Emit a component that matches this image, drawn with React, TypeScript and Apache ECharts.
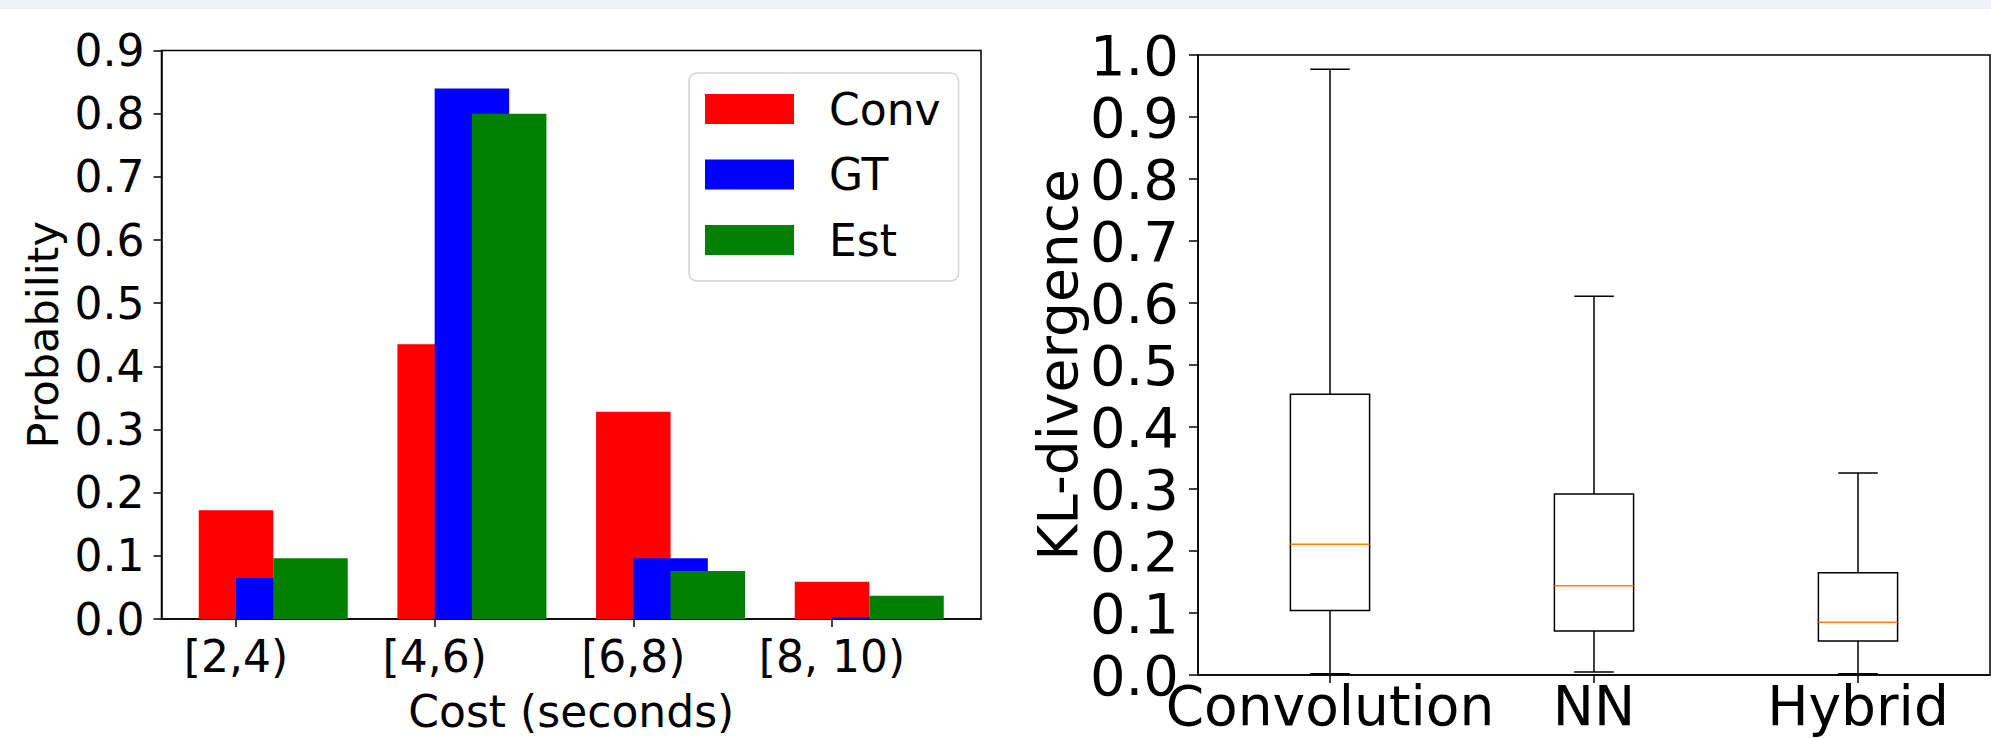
import React, { useEffect, useRef } from 'react';
import * as echarts from 'echarts';

// ---- Left chart data: probability per cost bin ----
const costBins = ['[2,4)', '[4,6)', '[6,8)', '[8, 10)'];
const convProb = [0.172, 0.435, 0.328, 0.059];
const gtProb = [0.065, 0.84, 0.096, 0.003];
const estProb = [0.096, 0.8, 0.076, 0.037];

// ---- Right chart data: KL-divergence box statistics ----
const methods = ['Convolution', 'NN', 'Hybrid'];
const klLow = [0.002, 0.005, 0.002];
const klQ1 = [0.104, 0.071, 0.055];
const klMedian = [0.211, 0.144, 0.085];
const klQ3 = [0.453, 0.292, 0.165];
const klHigh = [0.977, 0.611, 0.326];

const FONT = 'DejaVu Sans';
const BAR_W = 0.375; // bar width in axis units

export default function App() {
  const ref = useRef<HTMLDivElement>(null);

  useEffect(() => {
    document.body.style.margin = '0';
    const chart = echarts.init(ref.current!, undefined, { renderer: 'svg' });

    const L = { left: 161.5, right: 981, top: 50.5, bottom: 632.5 };
    const R = { left: 1198, right: 1990, top: 55, bottom: 675 };
    const xMin = -0.375;
    const xMax = 3.75;
    const barPx = ((L.right - L.left) / (xMax - xMin)) * BAR_W;

    const axisLineStyle = { color: '#000', width: 1.5 };

    const option: any = {
      animation: false,
      backgroundColor: '#fff',
      textStyle: { fontFamily: FONT },
      graphic: [
        {
          type: 'rect',
          shape: { x: 0, y: 0, width: 1991, height: 9 },
          style: { fill: '#edf1f9' },
          silent: true,
        },
      ],
      grid: [
        {
          left: L.left,
          top: L.top,
          width: L.right - L.left,
          height: L.bottom - L.top,
          show: true,
          borderColor: '#000',
          borderWidth: 1.5,
          backgroundColor: 'transparent',
        },
        {
          left: R.left,
          top: R.top,
          width: R.right - R.left,
          height: R.bottom - R.top,
          show: true,
          borderColor: '#000',
          borderWidth: 1.5,
          backgroundColor: 'transparent',
        },
      ],
      legend: {
        data: ['Conv', 'GT', 'Est'],
        orient: 'vertical',
        left: 689,
        top: 73,
        icon: 'rect',
        itemWidth: 89,
        itemHeight: 30,
        itemGap: 21.5,
        padding: [14, 18, 19, 16],
        borderColor: '#d4d4d4',
        borderWidth: 1.5,
        borderRadius: 8,
        backgroundColor: '#fff',
        textStyle: {
          fontSize: 44,
          fontFamily: FONT,
          color: '#000',
          lineHeight: 44,
          padding: [0, 0, 0, 30],
        },
      },
      xAxis: [
        {
          type: 'value',
          gridIndex: 0,
          min: xMin,
          max: xMax,
          name: 'Cost (seconds)',
          nameLocation: 'middle',
          nameGap: 70,
          nameTextStyle: { fontSize: 44, color: '#000', fontFamily: FONT },
          axisLine: { show: true, onZero: false, lineStyle: axisLineStyle },
          axisTick: {
            show: true,
            length: 8,
            lineStyle: axisLineStyle,
            customValues: [0, 1, 2, 3],
          },
          axisLabel: {
            fontSize: 44,
            color: '#000',
            margin: 15,
            customValues: [0, 1, 2, 3],
            formatter: (v: number) => costBins[Math.round(v)] ?? '',
          },
          splitLine: { show: false },
        },
        {
          type: 'category',
          gridIndex: 1,
          data: methods,
          boundaryGap: true,
          axisLine: { show: true, onZero: false, lineStyle: axisLineStyle },
          axisTick: { show: true, alignWithLabel: true, interval: 0, length: 8, lineStyle: axisLineStyle },
          axisLabel: { fontSize: 55, color: '#000', margin: 3, interval: 0, hideOverlap: false },
          splitLine: { show: false },
        },
      ],
      yAxis: [
        {
          type: 'value',
          gridIndex: 0,
          min: 0,
          max: 0.9,
          interval: 0.1,
          name: 'Probability',
          nameLocation: 'middle',
          nameGap: 97,
          nameTextStyle: { fontSize: 43, color: '#000', fontFamily: FONT },
          axisLine: { show: true, onZero: false, lineStyle: axisLineStyle },
          axisTick: { show: true, length: 8, lineStyle: axisLineStyle },
          axisLabel: {
            fontSize: 44,
            color: '#000',
            margin: 17,
            formatter: (v: number) => v.toFixed(1),
          },
          splitLine: { show: false },
        },
        {
          type: 'value',
          gridIndex: 1,
          min: 0,
          max: 1,
          interval: 0.1,
          name: 'KL-divergence',
          nameLocation: 'middle',
          nameGap: 113,
          nameTextStyle: { fontSize: 55, color: '#000', fontFamily: FONT },
          axisLine: { show: true, onZero: false, lineStyle: axisLineStyle },
          axisTick: { show: true, length: 9, lineStyle: axisLineStyle },
          axisLabel: {
            fontSize: 56,
            color: '#000',
            margin: 19,
            formatter: (v: number) => v.toFixed(1),
          },
          splitLine: { show: false },
        },
      ],
      series: [
        {
          name: 'Conv',
          type: 'bar',
          xAxisIndex: 0,
          yAxisIndex: 0,
          barWidth: barPx,
          barGap: '-100%',
          itemStyle: { color: '#ff0000' },
          data: convProb.map((v, i) => [i, v]),
        },
        {
          name: 'GT',
          type: 'bar',
          xAxisIndex: 0,
          yAxisIndex: 0,
          barWidth: barPx,
          barGap: '-100%',
          itemStyle: { color: '#0000ff' },
          data: gtProb.map((v, i) => [i + BAR_W / 2, v]),
        },
        {
          name: 'Est',
          type: 'bar',
          xAxisIndex: 0,
          yAxisIndex: 0,
          barWidth: barPx,
          barGap: '-100%',
          itemStyle: { color: '#008000' },
          data: estProb.map((v, i) => [i + BAR_W, v]),
        },
        {
          name: 'KL',
          type: 'custom',
          xAxisIndex: 1,
          yAxisIndex: 1,
          encode: { x: 0, y: [1, 2, 3, 4, 5] },
          data: methods.map((_, i) => [i, klLow[i], klQ1[i], klMedian[i], klQ3[i], klHigh[i]]),
          renderItem: (params: any, api: any) => {
            const idx = api.value(0);
            const low = api.coord([idx, api.value(1)]);
            const q1 = api.coord([idx, api.value(2)]);
            const med = api.coord([idx, api.value(3)]);
            const q3 = api.coord([idx, api.value(4)]);
            const high = api.coord([idx, api.value(5)]);
            const band = api.size([1, 0])[0];
            const bw = band * 0.3;
            const cw = bw / 2;
            const cx = low[0];
            const ls = { stroke: '#000', lineWidth: 1.5 };
            return {
              type: 'group',
              children: [
                { type: 'line', shape: { x1: cx, y1: q3[1], x2: cx, y2: high[1] }, style: ls },
                { type: 'line', shape: { x1: cx, y1: q1[1], x2: cx, y2: low[1] }, style: ls },
                { type: 'line', shape: { x1: cx - cw / 2, y1: high[1], x2: cx + cw / 2, y2: high[1] }, style: ls },
                { type: 'line', shape: { x1: cx - cw / 2, y1: low[1], x2: cx + cw / 2, y2: low[1] }, style: ls },
                {
                  type: 'rect',
                  shape: { x: cx - bw / 2, y: q3[1], width: bw, height: q1[1] - q3[1] },
                  style: { fill: 'none', stroke: '#000', lineWidth: 1.5 },
                },
                {
                  type: 'line',
                  shape: { x1: cx - bw / 2, y1: med[1], x2: cx + bw / 2, y2: med[1] },
                  style: { stroke: '#ff7f0e', lineWidth: 1.5 },
                },
              ],
            };
          },
        },
      ],
    };

    chart.setOption(option);
    return () => {
      chart.dispose();
    };
  }, []);

  return <div ref={ref} style={{ width: 1991, height: 738, background: '#fff' }} />;
}
